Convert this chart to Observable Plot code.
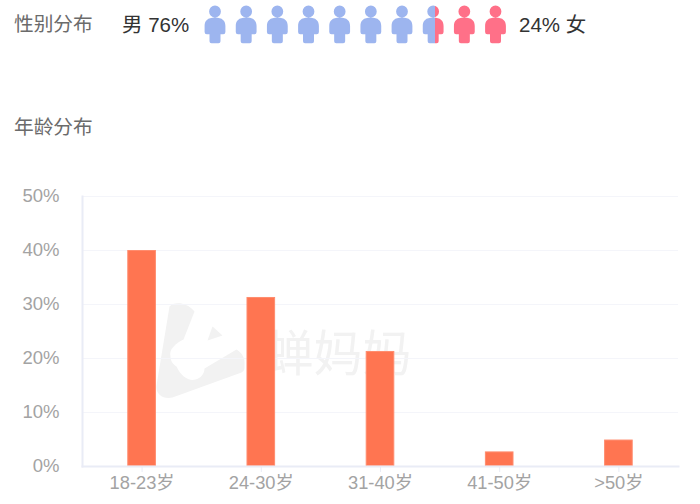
<!DOCTYPE html>
<html lang="zh">
<head>
<meta charset="utf-8">
<script src="https://cdn.jsdelivr.net/npm/d3@7"></script>
<script src="https://cdn.jsdelivr.net/npm/@observablehq/plot@0.6"></script>
<style>
html,body{margin:0;padding:0;background:#fff;}
#root{position:relative;width:700px;height:504px;overflow:hidden;font-family:"Liberation Sans","Noto Sans CJK SC",sans-serif;}
#root svg{position:absolute;left:0;top:0;}
.t{position:absolute;white-space:nowrap;line-height:24px;z-index:2;}
.h{color:#6b6b6b;font-size:19.7px;left:14px;font-family:"Noto Sans CJK SC",sans-serif;}
.g{color:#333;font-size:20.5px;top:13px;}
</style>
</head>
<body>
<div id="root"></div>
<script>
const ageGroups = ["18-23岁", "24-30岁", "31-40岁", "41-50岁", ">50岁"];
const agePercents = [40, 31.3, 21.3, 2.7, 4.9];
const yTicks = [0, 10, 20, 30, 40, 50];
const maleShare = 76;
const femaleShare = 24;
const iconCount = 10;
const sectionTitles = ["性别分布", "年龄分布"];
const genderNames = ["男", "女"];
const watermark = "蝉妈妈";

const ageRows = ageGroups.map((group, i) => ({group, value: agePercents[i]}));
const FONT = '"Liberation Sans","Noto Sans CJK SC",sans-serif';

const logoSymbol = {
  draw(c) {
    c.moveTo(-31, -45);
    c.bezierCurveTo(-27, -50, -14, -50, -6, -40);
    c.lineTo(-17, -12);
    c.bezierCurveTo(-25, -8, -32, -2, -30, 5);
    c.bezierCurveTo(-30, 10, -27, 13, -24, 15);
    c.bezierCurveTo(-20, 24, -12, 30, -5, 28);
    c.bezierCurveTo(0, 27, 4, 22, 4, 17);
    c.lineTo(36, -2);
    c.bezierCurveTo(41, 1, 45, 6, 44, 14);
    c.bezierCurveTo(44, 18, 44, 19, 41, 21);
    c.lineTo(-28, 46);
    c.bezierCurveTo(-36, 48, -45, 44, -44, 34);
    c.closePath();
    c.moveTo(12, -25);
    c.lineTo(22, -16);
    c.lineTo(7, -11);
    c.closePath();
  }
};

const personSymbol = {
  draw(c) {
    c.moveTo(5.9, -13);
    c.arc(0, -13, 5.9, 0, 2 * Math.PI);
    c.closePath();
    c.moveTo(0, -7);
    c.bezierCurveTo(7.5, -7, 10.4, -3.5, 10.4, 1.5);
    c.lineTo(10.4, 7.5);
    c.quadraticCurveTo(10.4, 9.8, 8.2, 9.8);
    c.lineTo(5.5, 9.8);
    c.lineTo(5.5, 16.8);
    c.quadraticCurveTo(5.5, 18.8, 3.5, 18.8);
    c.lineTo(-3.5, 18.8);
    c.quadraticCurveTo(-5.5, 18.8, -5.5, 16.8);
    c.lineTo(-5.5, 9.8);
    c.lineTo(-8.2, 9.8);
    c.quadraticCurveTo(-10.4, 9.8, -10.4, 7.5);
    c.lineTo(-10.4, 1.5);
    c.bezierCurveTo(-10.4, -3.5, -7.5, -7, 0, -7);
    c.closePath();
  }
};

const main = Plot.plot({
  width: 700, height: 504,
  marginTop: 196, marginBottom: 38, marginLeft: 82, marginRight: 22,
  style: {fontFamily: FONT, background: "#fff"},
  x: {type: "band", domain: ageGroups, paddingInner: 0.76, paddingOuter: 0.38, align: 0.5, round: false, label: null},
  y: {domain: [0, 50], label: null},
  marks: [
    Plot.dot([0], {frameAnchor: "top-left", dx: 118, dy: 155, symbol: logoSymbol, fill: "#f2f2f2", stroke: "none"}),
    Plot.text([watermark], {frameAnchor: "top-left", dx: 182, dy: 159, textAnchor: "start", lineAnchor: "middle", fontSize: 49, fill: "#f2f2f2", fontFamily: '"Noto Sans CJK SC",sans-serif'}),
    Plot.gridY(yTicks.slice(1), {stroke: "#f4f5fa", strokeOpacity: 1}),
    Plot.frame({anchor: "left", stroke: "#e9ecf6", strokeWidth: 2}),
    Plot.barY(ageRows, {x: "group", y: "value", fill: "#ff7551", stroke: "#ff8c6e", strokeWidth: 1, inset: 0.5}),
    Plot.frame({anchor: "bottom", stroke: "#e9ecf6", strokeWidth: 2}),
    Plot.axisX({anchor: "bottom", tickSize: 6, tickPadding: 3, fontSize: 18.3, stroke: "#e9ecf6", fill: "#a3a3a3", label: null}),
    Plot.axisY(yTicks, {anchor: "left", tickSize: 0, tickPadding: 23, fontSize: 18.5, fill: "#a3a3a3", tickFormat: d => d + "%", label: null})
  ]
});

const filled = maleShare / 100 * iconCount;
const icons = d3.range(iconCount);
const defs = () => {
  const d = d3.create("svg:defs");
  const g = d.append("linearGradient").attr("id", "split").attr("x1", 0).attr("x2", 1).attr("y1", 0).attr("y2", 0);
  const f = filled - Math.floor(filled);
  g.append("stop").attr("offset", f).attr("stop-color", "#9db5ef");
  g.append("stop").attr("offset", f).attr("stop-color", "#ff7088");
  return d.node();
};
const pictogram = Plot.plot({
  width: 700, height: 48,
  margin: 0, marginLeft: 214.5, marginRight: 205,
  style: {background: "transparent"},
  axis: null,
  x: {domain: [0, iconCount - 1]},
  marks: [
    defs,
    Plot.dot(icons.filter(i => i + 1 <= filled), {x: d => d, symbol: personSymbol, fill: "#9db5ef", stroke: "none"}),
    Plot.dot(icons.filter(i => i < filled && i + 1 > filled), {x: d => d, symbol: personSymbol, fill: "url(#split)", stroke: "none"}),
    Plot.dot(icons.filter(i => i >= filled), {x: d => d, symbol: personSymbol, fill: "#ff7088", stroke: "none"})
  ]
});

const root = document.getElementById("root");
root.append(main, pictogram);
const label = (cls, text, style) => {
  const el = document.createElement("div");
  el.className = "t " + cls;
  el.textContent = text;
  Object.assign(el.style, style);
  root.append(el);
};
label("h", sectionTitles[0], {top: "11px"});
label("h", sectionTitles[1], {top: "114px"});
label("g", `${genderNames[0]} ${maleShare}%`, {left: "122px"});
label("g", `${femaleShare}% ${genderNames[1]}`, {left: "519px"});
</script>
</body>
</html>
